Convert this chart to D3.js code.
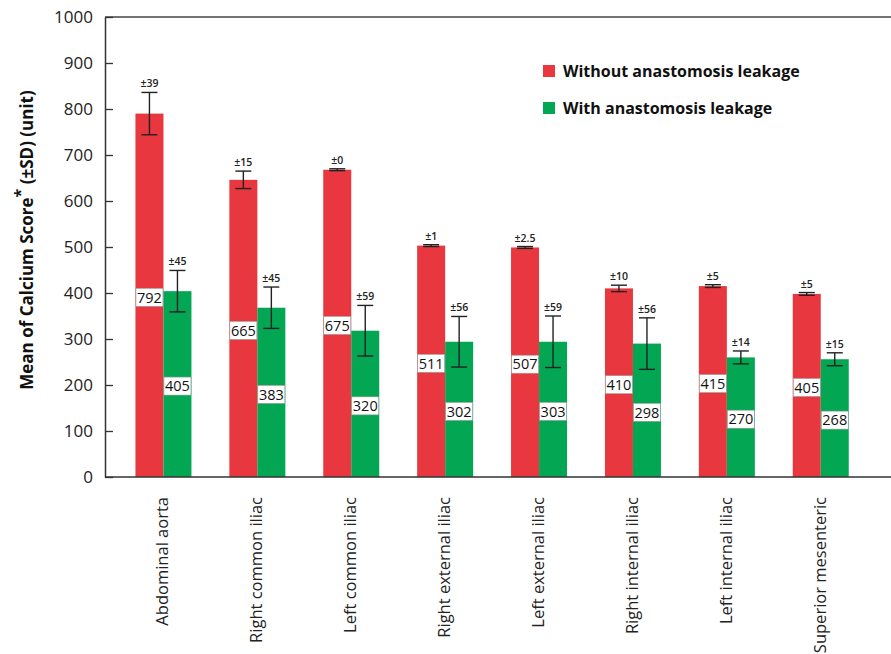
<!DOCTYPE html>
<html>
<head>
<meta charset="utf-8">
<script src="https://cdn.jsdelivr.net/npm/d3@7"></script>
<style>
  body { margin: 0; background: #fff; }
  svg { display: block; font-family: "Open Sans", sans-serif; }
</style>
</head>
<body>
<script>
const width = 891, height = 654;

const categories = ["Abdominal aorta", "Right common iliac", "Left common iliac", "Right external iliac",
    "Left external iliac", "Right internal iliac", "Left internal iliac", "Superior mesenteric"];
const seriesNames = ["Without anastomosis leakage", "With anastomosis leakage"];
// bar heights and error bar half-lengths as drawn in the picture
const withoutMean = [790, 646, 668, 503, 499, 410, 415, 398];
const withoutSD = [46, 19, 2, 2, 2, 7, 3, 3];
const withMean = [404, 368, 318, 294, 294, 290, 260, 256];
const withSD = [45, 45, 55, 55, 56, 56, 14, 14];
// printed labels
const withoutLabel = ["792", "665", "675", "511", "507", "410", "415", "405"];
const withLabel = ["405", "383", "320", "302", "303", "298", "270", "268"];
const withoutSDLabel = ["±39", "±15", "±0", "±1", "±2.5", "±10", "±5", "±5"];
const withSDLabel = ["±45", "±45", "±59", "±56", "±59", "±56", "±14", "±15"];
const yTicks = [0, 100, 200, 300, 400, 500, 600, 700, 800, 900, 1000];

const colors = ["#e8373e", "#03a653"];
const barW = 28;

const svg = d3.select("body").append("svg").attr("width", width).attr("height", height);

const y = d3.scaleLinear().domain([0, 1000]).range([477, 17]);
const x = d3.scaleBand().domain(categories).range([116.5, 867.7]).padding(0);
const half = x.bandwidth() / 2;

// series rows
const rows = categories.map((c, i) => [
    {cat: c, s: 0, mean: withoutMean[i], sd: withoutSD[i], label: withoutLabel[i], sdLabel: withoutSDLabel[i]},
    {cat: c, s: 1, mean: withMean[i], sd: withSD[i], label: withLabel[i], sdLabel: withSDLabel[i]}
]).flat();
const bx = (d) => x(d.cat) + half + (d.s === 0 ? -barW : 0);

// frame lines
svg.append("line").attr("x1", 105).attr("x2", width).attr("y1", y(1000)).attr("y2", y(1000))
    .attr("stroke", "#444").attr("stroke-width", 1.5);

// bars
svg.selectAll("rect.bar").data(rows).enter().append("rect").attr("class", "bar")
    .attr("x", bx).attr("width", barW)
    .attr("y", (d) => y(d.mean)).attr("height", (d) => y(0) - y(d.mean))
    .attr("fill", (d) => colors[d.s]);

// error bars
const eb = svg.selectAll("g.err").data(rows).enter().append("g").attr("class", "err")
    .attr("stroke", "#222").attr("stroke-width", 1.4);
eb.append("line").attr("x1", (d) => bx(d) + barW / 2).attr("x2", (d) => bx(d) + barW / 2)
    .attr("y1", (d) => y(d.mean + d.sd)).attr("y2", (d) => y(d.mean - d.sd));
eb.append("line").attr("x1", (d) => bx(d) + barW / 2 - 8).attr("x2", (d) => bx(d) + barW / 2 + 8)
    .attr("y1", (d) => y(d.mean + d.sd)).attr("y2", (d) => y(d.mean + d.sd));
eb.append("line").attr("x1", (d) => bx(d) + barW / 2 - 8).attr("x2", (d) => bx(d) + barW / 2 + 8)
    .attr("y1", (d) => y(d.mean - d.sd)).attr("y2", (d) => y(d.mean - d.sd));

// sd labels
svg.selectAll("text.sd").data(rows).enter().append("text").attr("class", "sd")
    .attr("x", (d) => bx(d) + barW / 2).attr("y", (d) => y(d.mean + d.sd) - 5)
    .attr("text-anchor", "middle").attr("font-size", 10.5).attr("font-weight", 600).attr("fill", "#222")
    .text((d) => d.sdLabel);

// value labels
const vl = svg.selectAll("g.val").data(rows).enter().append("g").attr("class", "val")
    .attr("transform", (d) => `translate(${bx(d) + barW / 2},${y(d.mean / 2) + 2})`);
vl.append("rect").attr("x", -13.5).attr("y", -9).attr("width", 27).attr("height", 18)
    .attr("fill", "#fff").attr("stroke", "#999").attr("stroke-width", 0.6);
vl.append("text").attr("text-anchor", "middle").attr("dy", "0.36em")
    .attr("font-size", 14.5).attr("fill", "#111").text((d) => d.label);

// bottom axis line
svg.append("line").attr("x1", 105).attr("x2", width).attr("y1", y(0)).attr("y2", y(0))
    .attr("stroke", "#333").attr("stroke-width", 1.5);

// y axis
const yAxis = svg.append("g").attr("transform", "translate(105,0)")
    .call(d3.axisLeft(y).tickValues(yTicks).tickFormat(d3.format("d"))
        .tickSizeInner(-8).tickSizeOuter(0).tickPadding(12));
yAxis.select(".domain").attr("stroke", "#333").attr("stroke-width", 1.5);
yAxis.selectAll(".tick line").attr("stroke", "#333").attr("stroke-width", 1.3);
yAxis.selectAll(".tick text").attr("font-size", 17).attr("fill", "#222")
    .attr("font-family", "Open Sans, sans-serif");

// y title
const yt = svg.append("text").attr("transform", "translate(33,240) rotate(-90)")
    .attr("text-anchor", "middle").attr("font-size", 17).attr("font-weight", "bold").attr("fill", "#111");
yt.append("tspan").text("Mean of Calcium Score");
yt.append("tspan").attr("dy", -7).attr("font-size", 16).text("*");
yt.append("tspan").attr("dy", 7).text(" (±SD) (unit)");

// x labels
svg.selectAll("text.xl").data(categories).enter().append("text").attr("class", "xl")
    .attr("transform", (d) => `translate(${x(d) + half + 5},497) rotate(-90)`)
    .attr("text-anchor", "end").attr("font-size", 16.5).attr("fill", "#222").text((d) => d);

// legend
const lg = svg.selectAll("g.lg").data(seriesNames).enter().append("g").attr("class", "lg")
    .attr("transform", (d, i) => `translate(543,${65 + i * 37})`);
lg.append("rect").attr("width", 12).attr("height", 12).attr("fill", (d, i) => colors[i]);
lg.append("text").attr("x", 20).attr("y", 12).attr("font-size", 16).attr("font-weight", "bold")
    .attr("fill", "#111").text((d) => d);
</script>
</body>
</html>
